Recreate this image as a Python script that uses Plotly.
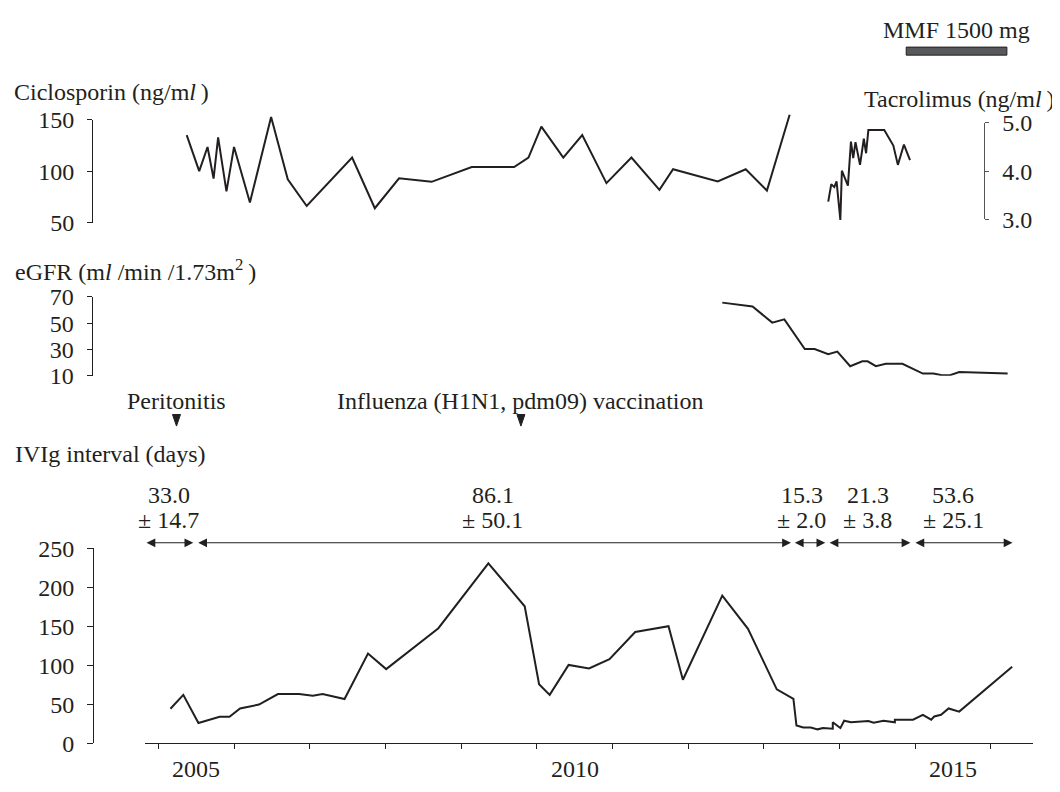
import plotly.graph_objects as go

# ---------------- data ----------------
cic_years = [2005.375, 2005.54, 2005.65, 2005.73, 2005.79, 2005.90, 2006.00, 2006.21, 2006.49,
             2006.71, 2006.96, 2007.56, 2007.86, 2008.18, 2008.61, 2009.14, 2009.70, 2009.89,
             2010.06, 2010.35, 2010.60, 2010.92, 2011.25, 2011.62, 2011.80, 2012.39, 2012.76,
             2013.04, 2013.34]
cic_vals = [135, 100, 123.5, 92.8, 132.8, 80.4, 123.5, 69.7, 152.5,
            92.2, 66.3, 113.2, 64.1, 93.1, 89.7, 104.1, 104.1, 113.2,
            143.2, 113.2, 135, 88.4, 113.2, 81.9, 101.9, 90, 101.9,
            81.3, 154.7]

tac_years = [2013.85, 2013.89, 2013.93, 2013.96, 2014.01, 2014.03, 2014.11, 2014.15, 2014.18,
             2014.21, 2014.27, 2014.32, 2014.35, 2014.38, 2014.59, 2014.71, 2014.77, 2014.85,
             2014.93]
tac_vals = [3.37, 3.73, 3.67, 3.79, 2.99, 4.01, 3.70, 4.61, 4.27,
            4.60, 4.13, 4.67, 4.37, 4.85, 4.85, 4.53, 4.13, 4.55,
            4.23]

egfr_years = [2012.45, 2012.85, 2013.11, 2013.27, 2013.54, 2013.67, 2013.85, 2013.97, 2014.14,
              2014.30, 2014.37, 2014.48, 2014.61, 2014.83, 2015.10, 2015.24, 2015.35, 2015.46,
              2015.58, 2016.22]
egfr_vals = [65.6, 62.7, 50.4, 52.9, 30.3, 30.3, 26.4, 28.4, 17.3,
             21.0, 21.0, 17.3, 19.1, 19.1, 11.7, 11.7, 10.5, 10.5,
             12.9, 11.7]

ivig_years = [2005.16, 2005.33, 2005.53, 2005.81, 2005.94, 2006.08, 2006.33, 2006.58, 2006.86,
              2007.04, 2007.17, 2007.46, 2007.77, 2008.01, 2008.70, 2009.36, 2009.84, 2010.03,
              2010.17, 2010.42, 2010.69, 2010.96, 2011.30, 2011.74, 2011.93, 2012.45, 2012.79,
              2013.17, 2013.39, 2013.43, 2013.52, 2013.62, 2013.71, 2013.78, 2013.91, 2013.91,
              2014.01, 2014.06, 2014.15, 2014.29, 2014.38, 2014.45, 2014.58, 2014.73, 2014.73,
              2014.97, 2015.10, 2015.21, 2015.25, 2015.34, 2015.44, 2015.58, 2015.94, 2016.28]
ivig_vals = [44.2, 62, 26, 34, 34, 44.6, 49.6, 63, 63,
             61, 63, 56.6, 115, 95, 147.5, 230.6, 175.6, 75.6,
             62, 100.4, 95.9, 107.8, 142.6, 150, 81.4, 189.2, 146.7,
             69, 57, 22.7, 20.2, 20.2, 17.8, 19.4, 18.6, 26.9,
             19.4, 28.9, 26.9, 27.3, 28.5, 26.4, 28.9, 26.9, 30.2,
             30.2, 36.4, 30.2, 34.3, 36.4, 44.6, 40.5, 69.4, 97.9]

# IVIg interval periods (start, end, mean, sd)
period_starts = [2004.824, 2005.507, 2013.389, 2013.848, 2014.982]
period_ends = [2005.462, 2013.357, 2013.811, 2014.936, 2016.284]
period_means = ["33.0", "86.1", "15.3", "21.3", "53.6"]
period_sds = ["± 14.7", "± 50.1", "± 2.0", "± 3.8", "± 25.1"]
period_label_x = [2005.14, 2009.42, 2013.50, 2014.37, 2015.50]

event_years = [2005.24, 2009.79]
event_labels = ["Peritonitis", "Influenza (H1N1, pdm09) vaccination"]

mmf_start, mmf_end = 2014.88, 2016.21
mmf_label = "MMF 1500 mg"

year_ticks = list(range(2005, 2017))
year_label_pos = [2005.5, 2010.5, 2015.5]
year_labels = ["2005", "2010", "2015"]

ivig_ticks = [0, 50, 100, 150, 200, 250]
egfr_ticks = [10, 30, 50, 70]
cic_ticks = [50, 100, 150]
tac_ticks = [3.0, 4.0, 5.0]

# ---------------- layout helpers ----------------
# the page body has an 8px margin, so the figure is sized to fill the window from (8, 8)
OFF = 8
W, H = 1060 - OFF, 792 - OFF
INK = "#231f20"
FONT = "Liberation Serif"


def px(xp):
    return (xp - OFF) / W


def py(yp):
    return 1 - (yp - OFF) / H


fs = 24
tickfont = dict(family=FONT, size=fs, color=INK)

fig = go.Figure()

line = dict(color=INK, width=2)
fig.add_trace(go.Scatter(x=ivig_years, y=ivig_vals, mode="lines", line=line, xaxis="x", yaxis="y"))
fig.add_trace(go.Scatter(x=egfr_years, y=egfr_vals, mode="lines", line=line, xaxis="x", yaxis="y2"))
fig.add_trace(go.Scatter(x=[], y=[], mode="lines", xaxis="x", yaxis="y3"))
fig.add_trace(go.Scatter(x=cic_years, y=cic_vals, mode="lines", line=line, xaxis="x", yaxis="y4"))
fig.add_trace(go.Scatter(x=[], y=[], mode="lines", xaxis="x", yaxis="y5"))
fig.add_trace(go.Scatter(x=tac_years, y=tac_vals, mode="lines", line=line, xaxis="x", yaxis="y6"))

axis_common = dict(showline=True, linecolor=INK, linewidth=1.3, ticks="outside", tickcolor=INK,
                   tickwidth=1.3, showgrid=False, zeroline=False, tickfont=tickfont, fixedrange=True)
xaxis_common = {k: v for k, v in axis_common.items() if k != "tickfont"}

x0, x1 = 145.0, 1032.7
fig.update_layout(
    width=W, height=H, margin=dict(l=0, r=0, t=0, b=0),
    paper_bgcolor="white", plot_bgcolor="rgba(0,0,0,0)", showlegend=False,
    xaxis=dict(domain=[px(x0), px(x1)], range=[2004.824, 2016.551], anchor="y",
               tickvals=year_ticks, showticklabels=False, ticklen=5, **xaxis_common),
    yaxis=dict(domain=[py(755), py(553.3)], range=[0, 250], anchor="free", position=px(93.3),
               tickvals=ivig_ticks, ticklen=6, ticklabelstandoff=8, **axis_common),
    yaxis2=dict(domain=[py(375), py(293.3)], range=[10, 70], anchor="free", position=px(91.7),
                tickvals=egfr_ticks, ticklen=5, ticklabelstandoff=8, **axis_common),
    yaxis3=dict(domain=[py(216.7), py(110)], range=[50, 150], anchor="free", position=px(92.3),
                tickvals=cic_ticks, ticklen=5, ticklabelstandoff=8, **axis_common),
    yaxis4=dict(domain=[py(216.7), py(216.7 - 120 * 1.067)], range=[50, 170], visible=False, fixedrange=True),
    yaxis5=dict(domain=[py(213.3), py(113.3)], range=[3, 5], anchor="free", position=px(984.3), side="right",
                tickvals=tac_ticks, tickformat=".1f", ticklen=4, ticklabelstandoff=8,
                **{**axis_common, "linecolor": "#555555", "tickcolor": "#555555"}),
    yaxis6=dict(domain=[py(223.3), py(103.3)], range=[2.8, 5.2], visible=False, fixedrange=True),
)

ann = []
textfont = dict(family=FONT, size=fs, color=INK)
THIN = "\u2009"

# year labels
for xp_, lab in zip(year_label_pos, year_labels):
    ann.append(dict(x=xp_, y=py(781.5), xref="x", yref="paper", text=lab, showarrow=False,
                    xanchor="center", yanchor="middle", font=textfont))

# panel titles
ann.append(dict(x=px(12), y=py(81), xref="paper", yref="paper", text=f"Ciclosporin (ng/m<i>l</i>{THIN})",
                showarrow=False, xanchor="left", yanchor="middle", font=textfont))
ann.append(dict(x=px(1056), y=py(89), xref="paper", yref="paper", text=f"Tacrolimus (ng/m<i>l</i>{THIN})",
                showarrow=False, xanchor="right", yanchor="middle", font=textfont))
ann.append(dict(x=px(13), y=py(266), xref="paper", yref="paper",
                text=f"eGFR (m<i>l</i> /min /1.73m<sup>2</sup>{THIN})",
                showarrow=False, xanchor="left", yanchor="middle", font=textfont))
ann.append(dict(x=px(13), y=py(456), xref="paper", yref="paper", text="IVIg interval (days)",
                showarrow=False, xanchor="left", yanchor="middle", font=textfont))
ann.append(dict(x=(mmf_start + mmf_end) / 2, y=py(17), xref="x", yref="paper", text=mmf_label,
                showarrow=False, xanchor="center", yanchor="middle", font=textfont))

# events
for ex, el in zip(event_years, event_labels):
    ann.append(dict(x=ex, y=py(401), xref="x", yref="paper", text=el, showarrow=False,
                    xanchor="center", yanchor="middle", font=textfont))

# period arrows and labels
for s, e, m, sd, lx in zip(period_starts, period_ends, period_means, period_sds, period_label_x):
    ann.append(dict(x=e, y=py(547.7), ax=s, ay=0, xref="x", yref="paper", axref="x", ayref="pixel",
                    text="", showarrow=True, arrowhead=2, arrowside="end+start", arrowsize=1.6,
                    arrowwidth=1.1, arrowcolor=INK, standoff=0, startstandoff=0))
    ann.append(dict(x=lx, y=py(498), xref="x", yref="paper", text=m, showarrow=False,
                    xanchor="center", yanchor="middle", font=textfont))
    ann.append(dict(x=lx, y=py(524), xref="x", yref="paper", text=sd, showarrow=False,
                    xanchor="center", yanchor="middle", font=textfont))

fig.update_layout(annotations=ann)

# shapes: event triangles and MMF bar
shapes = []
half_w = 4 / 75.7
for ex in event_years:
    shapes.append(dict(type="path", xref="x", yref="paper",
                       path=f"M {ex - half_w},{py(415)} L {ex + half_w},{py(415)} L {ex},{py(427)} Z",
                       fillcolor=INK, line=dict(color=INK, width=1)))
shapes.append(dict(type="rect", xref="x", yref="paper", x0=mmf_start, x1=mmf_end,
                   y0=py(43.3), y1=py(35), fillcolor="#58595b", line=dict(color=INK, width=1)))
fig.update_layout(shapes=shapes)

fig.write_html("out.html")
